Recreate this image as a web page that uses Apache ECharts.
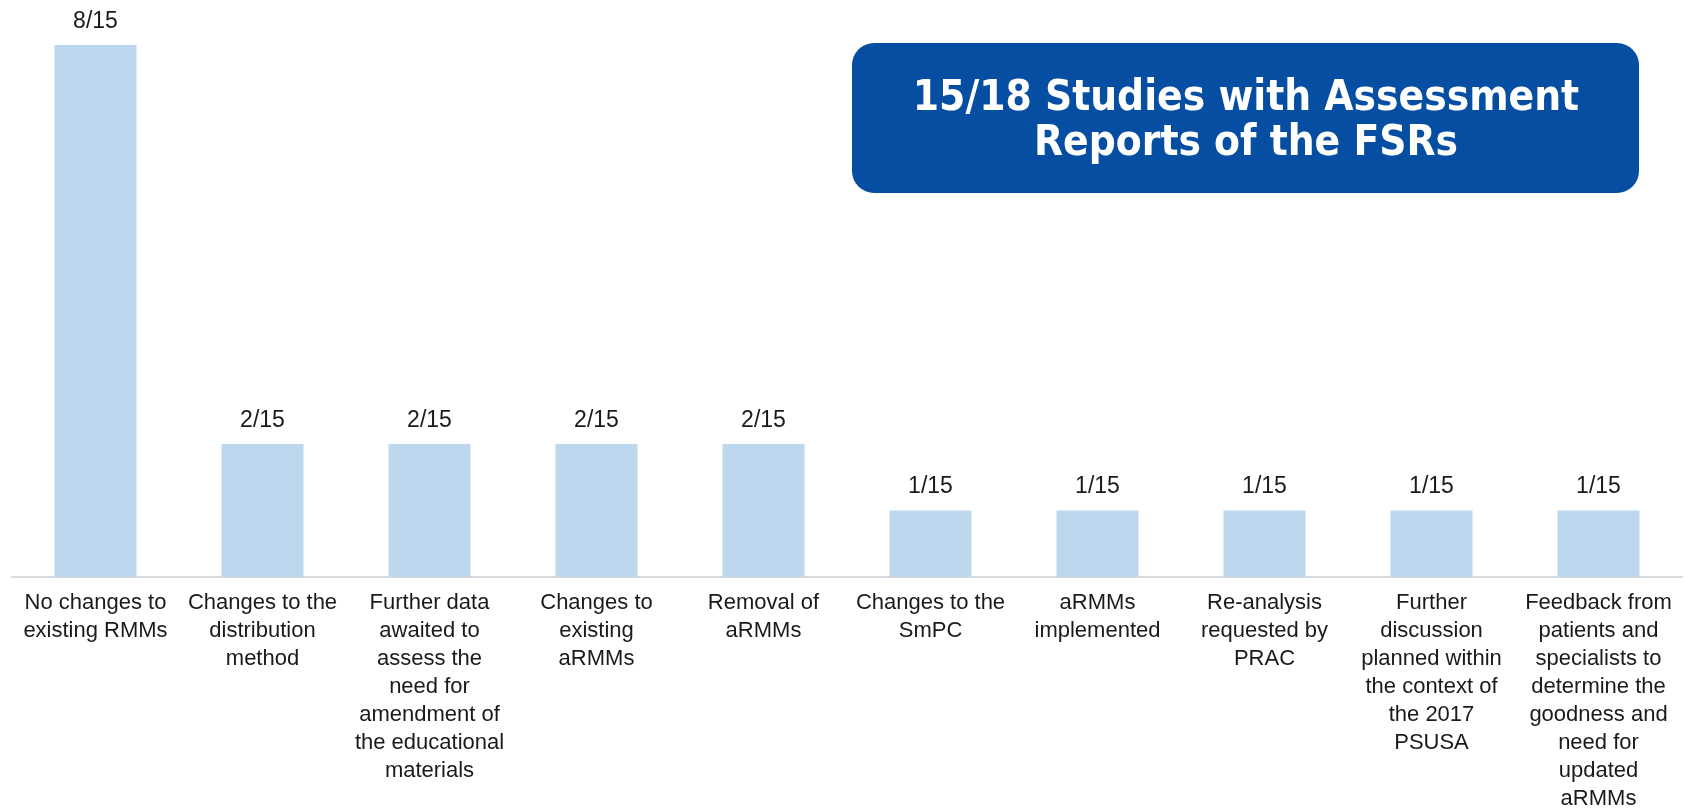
<!DOCTYPE html>
<html>
<head>
<meta charset="utf-8">
<script src="https://cdn.jsdelivr.net/npm/echarts@6/dist/echarts.min.js"></script>
<title></title>
<style>html,body{margin:0;padding:0;background:#fff;}</style>
</head>
<body>
<div id="main" style="width:1694px;height:809px;"></div>
<script type="text/javascript">
var categories = [
  'No changes to\nexisting RMMs',
  'Changes to the\ndistribution\nmethod',
  'Further data\nawaited to\nassess the\nneed for\namendment of\nthe educational\nmaterials',
  'Changes to\nexisting\naRMMs',
  'Removal of\naRMMs',
  'Changes to the\nSmPC',
  'aRMMs\nimplemented',
  'Re-analysis\nrequested by\nPRAC',
  'Further\ndiscussion\nplanned within\nthe context of\nthe 2017\nPSUSA',
  'Feedback from\npatients and\nspecialists to\ndetermine the\ngoodness and\nneed for\nupdated\naRMMs'
];
var counts = [8, 2, 2, 2, 2, 1, 1, 1, 1, 1];
var total = 15;
var boxTitle = '15/18 Studies with Assessment\nReports of the FSRs';

var myChart = echarts.init(document.getElementById('main'));
myChart.setOption({
  animation: false,
  grid: { left: 12, right: 12, top: 45, bottom: 232, outerBoundsMode: 'none' },
  xAxis: {
    type: 'category',
    data: categories,
    axisLine: { lineStyle: { color: '#d9d9d9', width: 2 } },
    axisTick: { show: false },
    axisLabel: {
      interval: 0,
      margin: 12,
      color: '#1a1a1a',
      fontFamily: 'Liberation Sans, Arial, sans-serif',
      fontSize: 22,
      lineHeight: 28
    }
  },
  yAxis: {
    type: 'value',
    min: 0,
    max: 8,
    show: false,
    splitLine: { show: false }
  },
  series: [{
    type: 'bar',
    data: counts,
    barWidth: 82,
    itemStyle: { color: '#bdd7ee' },
    label: {
      show: true,
      position: 'top',
      distance: 12,
      color: '#1a1a1a',
      fontFamily: 'Liberation Sans, Arial, sans-serif',
      fontSize: 23,
      formatter: function (p) { return p.value + '/' + total; }
    }
  }],
  graphic: [{
    type: 'group',
    left: 852,
    top: 43,
    children: [{
      type: 'rect',
      shape: { x: 0, y: 0, width: 787, height: 150, r: 22 },
      style: { fill: '#054ea2' }
    }, {
      type: 'text',
      x: 394,
      y: 79,
      style: {
        text: boxTitle,
        fill: '#fff',
        font: 'bold 42px "DejaVu Sans Condensed", "DejaVu Sans", sans-serif',
        align: 'center',
        verticalAlign: 'middle',
        lineHeight: 45
      }
    }]
  }]
});
</script>
</body>
</html>
